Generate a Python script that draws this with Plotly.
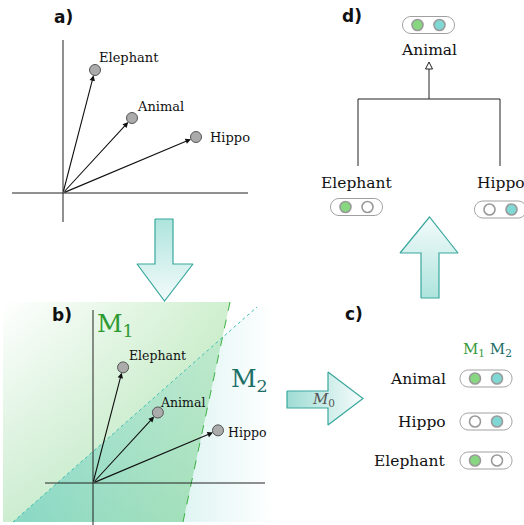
import plotly.graph_objects as go

# ---------------- data ----------------
words = ["Elephant", "Animal", "Hippo"]
vec_x = [32, 69, 133]          # embedding vectors (panel a units)
vec_y = [123, 75, 56]

c_rows = ["Animal", "Hippo", "Elephant"]   # panel c table
c_m1 = [1, 0, 1]
c_m2 = [1, 1, 0]

d_nodes = ["Animal", "Elephant", "Hippo"]  # panel d tree
d_m1 = [1, 1, 0]
d_m2 = [1, 0, 1]

W, H = 524, 525
SERIF = "DejaVu Serif"
BOLD = "DejaVu Sans"
GREEN_DOT = "#86d77f"
TEAL_DOT = "#80d8d4"
DOT_EDGE = "#9a9a9a"
ARROW_EDGE = "#39a79d"

fig = go.Figure()
shapes = []
ann = []

# ---------------- panel b regions (M1 / M2) ----------------
m1x = [3, 230, 183, 3]
m1y = [302, 302, 522, 522]
fig.add_trace(go.Scatter(x=m1x, y=m1y, fill="toself", mode="none", hoverinfo="skip",
                         fillgradient=dict(type="horizontal", start=3, stop=230,
                                           colorscale=[[0, "rgba(150,220,150,0)"], [1, "rgba(150,220,150,0.45)"]])))
fig.add_trace(go.Scatter(x=m1x, y=m1y, fill="toself", mode="none", hoverinfo="skip",
                         fillgradient=dict(type="vertical", start=302, stop=522,
                                           colorscale=[[0, "rgba(130,210,140,0)"], [1, "rgba(130,210,140,0.4)"]])))
m2x = [13, 257, 275, 275]
m2y = [522, 307, 304, 522]
fig.add_trace(go.Scatter(x=m2x, y=m2y, fill="toself", mode="none", hoverinfo="skip",
                         fillgradient=dict(type="horizontal", start=13, stop=275,
                                           colorscale=[[0, "rgba(70,195,185,0.5)"], [1, "rgba(70,195,185,0)"]])))
shapes.append(dict(type="line", x0=230, y0=302, x1=183, y1=522, line=dict(color="#3cb043", width=1, dash="dash")))
shapes.append(dict(type="line", x0=13, y0=522, x1=257, y1=307, line=dict(color="#3dbdb4", width=1, dash="dot")))

# ---------------- big arrows ----------------
def arrow_trace(xs, ys, gtype, start, stop, c0, c1):
    return go.Scatter(x=xs, y=ys, fill="toself", mode="lines", hoverinfo="skip",
                      line=dict(color=ARROW_EDGE, width=1.2),
                      fillgradient=dict(type=gtype, start=start, stop=stop,
                                        colorscale=[[0, c0], [1, c1]]))

fig.add_trace(arrow_trace([155, 173, 173, 193, 164.5, 137, 155, 155],
                          [219, 219, 264, 264, 301, 264, 264, 219],
                          "vertical", 219, 301, "#aee4dd", "#f3fbfb"))
fig.add_trace(arrow_trace([421, 439, 439, 458, 429.5, 400, 421, 421],
                          [298, 298, 253, 253, 217, 253, 253, 298],
                          "vertical", 298, 217, "#aee4dd", "#f3fbfb"))
fig.add_trace(arrow_trace([287, 328, 328, 363, 328, 328, 287, 287],
                          [391, 391, 372, 398.5, 425, 408, 408, 391],
                          "horizontal", 287, 363, "#9edcd4", "#f6fcfc"))
ann.append(dict(x=323, y=399, text="<i>M</i><sub>0</sub>", showarrow=False,
                font=dict(family=SERIF, size=15, color="#555")))

# ---------------- panels a and b: axes, vectors, points ----------------
panels = [
    dict(ox=63, oy=193, s=1.0, vx=(40, 222), hx=(12, 248), fs=13,
         off=[(2, -13), (3, -12), (12, 0)]),
    dict(ox=93, oy=483, s=0.94, vx=(310, 525), hx=(45, 265), fs=12.5,
         off=[(4, -12), (0, -10), (8, 2)]),
]
for p in panels:
    ox, oy, s = p["ox"], p["oy"], p["s"]
    shapes.append(dict(type="line", x0=ox, y0=p["vx"][0], x1=ox, y1=p["vx"][1],
                       line=dict(color="#222", width=1)))
    shapes.append(dict(type="line", x0=p["hx"][0], y0=oy, x1=p["hx"][1], y1=oy,
                       line=dict(color="#222", width=1)))
    px = [ox + s * v for v in vec_x]
    py = [oy - s * v for v in vec_y]
    fig.add_trace(go.Scatter(x=px, y=py, mode="markers", hoverinfo="skip",
                             marker=dict(size=11, color="#ababab", line=dict(color="#555", width=1))))
    for i, w in enumerate(words):
        ann.append(dict(x=px[i], y=py[i], ax=ox, ay=oy, xref="x", yref="y", axref="x", ayref="y",
                        text="", showarrow=True, arrowhead=2, arrowsize=1, arrowwidth=1.1,
                        arrowcolor="#111", standoff=5.5))
        dx, dy = p["off"][i]
        ann.append(dict(x=px[i] + dx, y=py[i] + dy, text=w, showarrow=False, xanchor="left",
                        yanchor="middle", font=dict(family=SERIF, size=p["fs"], color="#111")))

ann.append(dict(x=95, y=325, text="M<sub>1</sub>", showarrow=False, xanchor="left", yanchor="middle",
                font=dict(family=SERIF, size=25, color="#2f9a32")))
ann.append(dict(x=229, y=380, text="M<sub>2</sub>", showarrow=False, xanchor="left", yanchor="middle",
                font=dict(family=SERIF, size=25, color="#1e6e68")))

# ---------------- panel labels ----------------
for t, x, y in [("a)", 63, 17), ("b)", 62, 315), ("c)", 354, 314), ("d)", 352, 16)]:
    ann.append(dict(x=x, y=y, text=f"<b>{t}</b>", showarrow=False,
                    font=dict(family=BOLD, size=17, color="#111")))

# ---------------- pills ----------------
def pill_path(cx, cy, w=52, h=17):
    r = h / 2
    k = 0.5523 * r
    x0 = cx - w / 2 + r
    x1 = cx + w / 2 - r
    return (f"M{x0},{cy-r} L{x1},{cy-r} C{x1+k},{cy-r} {x1+r},{cy-k} {x1+r},{cy} "
            f"C{x1+r},{cy+k} {x1+k},{cy+r} {x1},{cy+r} L{x0},{cy+r} "
            f"C{x0-k},{cy+r} {x0-r},{cy+k} {x0-r},{cy} C{x0-r},{cy-k} {x0-k},{cy-r} {x0},{cy-r} Z")

dot_x, dot_y, dot_c = [], [], []
def add_pill(cx, cy, m1, m2):
    shapes.append(dict(type="path", path=pill_path(cx, cy), layer="below",
                       fillcolor="white", line=dict(color="#a0a0a0", width=1)))
    dot_x.extend([cx - 11, cx + 11])
    dot_y.extend([cy, cy])
    dot_c.extend([GREEN_DOT if m1 else "white", TEAL_DOT if m2 else "white"])

# panel c
c_y = [378.5, 421.5, 460.5]
for name, m1, m2, y in zip(c_rows, c_m1, c_m2, c_y):
    add_pill(486, y, m1, m2)
    ann.append(dict(x=448, y=y, text=name, showarrow=False, xanchor="right", yanchor="middle",
                    font=dict(family=SERIF, size=15.5, color="#111")))
ann.append(dict(x=487, y=349, showarrow=False,
                text="<span style='color:#3a9a3c'>M<sub>1</sub></span> <span style='color:#1e6e68'>M<sub>2</sub></span>",
                font=dict(family=SERIF, size=15)))

# panel d
d_pos = {"Animal": (428.5, 25, 428.5, 50), "Elephant": (356.5, 207, 357, 183), "Hippo": (500.5, 209.5, 501, 183)}
for name, m1, m2 in zip(d_nodes, d_m1, d_m2):
    pcx, pcy, tx, ty = d_pos[name]
    add_pill(pcx, pcy, m1, m2)
    ann.append(dict(x=tx, y=ty, text=name, showarrow=False, yanchor="middle",
                    font=dict(family=SERIF, size=15.5, color="#111")))

fig.add_trace(go.Scatter(x=dot_x, y=dot_y, mode="markers", hoverinfo="skip",
                         marker=dict(size=11, color=dot_c, line=dict(color=DOT_EDGE, width=1.6))))

# tree lines
for x0, y0, x1, y1 in [(429, 99, 429, 68), (358, 99, 500, 99), (358, 99, 358, 166), (500, 99, 500, 166)]:
    shapes.append(dict(type="line", x0=x0, y0=y0, x1=x1, y1=y1, line=dict(color="#222", width=1)))
shapes.append(dict(type="path", path="M429,62 L425.5,69 L432.5,69 Z", fillcolor="white",
                   line=dict(color="#222", width=1)))

fig.update_layout(
    width=W, height=H, margin=dict(l=0, r=0, t=0, b=0),
    paper_bgcolor="white", plot_bgcolor="white", showlegend=False,
    xaxis=dict(range=[0, W], visible=False, fixedrange=True),
    yaxis=dict(range=[H, 0], visible=False, fixedrange=True),
    shapes=shapes, annotations=ann,
)
fig.write_html("out.html", config={"displayModeBar": False},
               post_script="document.body.style.margin='0';document.body.style.overflow='hidden';")
